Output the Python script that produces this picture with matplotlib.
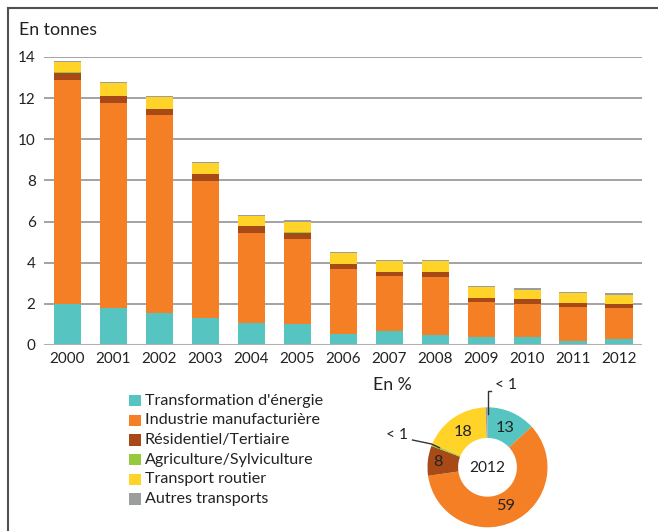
import matplotlib
matplotlib.use("Agg")
import matplotlib.pyplot as plt
import numpy as np
from matplotlib.lines import Line2D
from matplotlib.patches import Rectangle

plt.rcParams['font.family'] = ['Lato', 'DejaVu Sans']

# Emissions by sector, in tonnes
years = ['2000', '2001', '2002', '2003', '2004', '2005', '2006',
         '2007', '2008', '2009', '2010', '2011', '2012']
transformation = [1.98, 1.81, 1.54, 1.33, 1.05, 1.00, 0.55, 0.67, 0.49, 0.39, 0.39, 0.21, 0.28]
industrie = [10.90, 9.95, 9.64, 6.64, 4.40, 4.17, 3.14, 2.68, 2.82, 1.70, 1.59, 1.65, 1.53]
residentiel = [0.36, 0.33, 0.29, 0.32, 0.32, 0.26, 0.24, 0.19, 0.22, 0.20, 0.26, 0.16, 0.18]
agriculture = [0.02, 0.02, 0.02, 0.02, 0.02, 0.05, 0.02, 0.02, 0.02, 0.01, 0.01, 0.01, 0.02]
routier = [0.48, 0.61, 0.55, 0.54, 0.48, 0.52, 0.51, 0.51, 0.52, 0.50, 0.44, 0.48, 0.44]
autres = [0.05, 0.05, 0.05, 0.05, 0.05, 0.06, 0.06, 0.06, 0.06, 0.07, 0.07, 0.05, 0.06]

sectors = ["Transformation d'énergie", "Industrie manufacturière",
           "Résidentiel/Tertiaire", "Agriculture/Sylviculture",
           "Transport routier", "Autres transports"]
colors = ['#56C4C1', '#F47F24', '#A84A18', '#97C93D', '#FFD327', '#9B9D9E']

# 2012 shares, in %
share_2012 = [13, 59, 8, 0.5, 18, 0.5]
share_labels = ['13', '59', '8', '< 1', '18', '< 1']

W, H = 658, 531
fig = plt.figure(figsize=(W / 100, H / 100), dpi=100)

def fx(px):
    return px / W

def fy(py):
    return 1 - py / H

# outer frame (left and top rules)
fig.add_artist(Line2D([fx(7.5), fx(7.5)], [fy(7.5), fy(531)], color='#505050', lw=1.5))
fig.add_artist(Line2D([fx(7.5), fx(658)], [fy(7.5), fy(7.5)], color='#505050', lw=1.5))

# ---- stacked bars ----
ax = fig.add_axes([fx(44), fy(345), fx(642) - fx(44), fy(57) - fy(345)])
x = np.arange(len(years))
series = [transformation, industrie, residentiel, agriculture, routier, autres]
bottom = np.zeros(len(years))
for vals, col in zip(series, colors):
    ax.bar(x, vals, width=0.59, bottom=bottom, color=col, linewidth=0, zorder=3)
    bottom += np.array(vals)

ax.set_xlim(-0.51, len(years) - 0.5)
ax.set_ylim(0, 14)
ax.set_yticks(np.arange(0, 15, 2))
ax.set_xticks(x)
ax.set_xticklabels(years)
for yv in range(2, 15, 2):
    ax.axhline(yv, color='#8a8a8a', lw=1.1, zorder=1)
ax.axhline(0, color='#b0b0b0', lw=2.2, zorder=4)
for s in ax.spines.values():
    s.set_visible(False)
ax.tick_params(axis='both', length=0, labelsize=11, colors='#222222')
ax.tick_params(axis='y', pad=6)
ax.tick_params(axis='x', pad=5)

fig.text(fx(19), fy(30), 'En tonnes', fontsize=12.8, color='#222222',
         ha='left', va='center')

# ---- legend ----
row_y = [400.7, 420.3, 440.0, 459.6, 479.3, 499.0]
for lab, col, yy in zip(sectors, colors, row_y):
    fig.add_artist(Rectangle((fx(129.3), fy(yy + 5.7)), fx(11.4), 11.4 / H,
                             facecolor=col, edgecolor='none'))
    fig.text(fx(145), fy(yy), lab, fontsize=11.6, color='#222222',
             ha='left', va='center')

# ---- donut for 2012 ----
cx, cy, R = 487.5, 467.3, 60
box = 220
dax = fig.add_axes([fx(cx - box / 2), fy(cy + box / 2), box / W, box / H])
dax.axis('off')
wedges, _ = dax.pie(share_2012, colors=colors, radius=R, startangle=90,
                    counterclock=False, wedgeprops=dict(width=R * 0.51, linewidth=0))
dax.set_xlim(-box / 2, box / 2)
dax.set_ylim(-box / 2, box / 2)
dax.set_aspect('equal')
dax.text(0, -1, '2012', fontsize=11.2, ha='center', va='center', color='#222222')

total = sum(share_2012)
cum = 0
for v, lab in zip(share_2012, share_labels):
    mid = np.deg2rad(90 - 360 * (cum + v / 2) / total)
    cum += v
    if lab == '< 1':
        continue
    r = 43 if lab != '8' else 50
    dax.text(r * np.cos(mid), r * np.sin(mid), lab, fontsize=11.8,
             ha='center', va='center', color='#222222')

# leader lines for the small shares
dax.plot([0, 0, 3.5], [53, 76.6, 76.6], color='#333333', lw=1, clip_on=False)
dax.text(7.5, 82, '< 1', fontsize=11.2, ha='left', va='center', color='#222222')
dax.plot([-75, -56, -48], [27.3, 23.3, 19.6], color='#333333', lw=1, clip_on=False)
dax.text(-80, 32.3, '< 1', fontsize=11.2, ha='right', va='center', color='#222222')

fig.text(fx(373), fy(385), 'En %', fontsize=12.8, color='#222222',
         ha='left', va='center')

fig.savefig('out.png', dpi=100)
